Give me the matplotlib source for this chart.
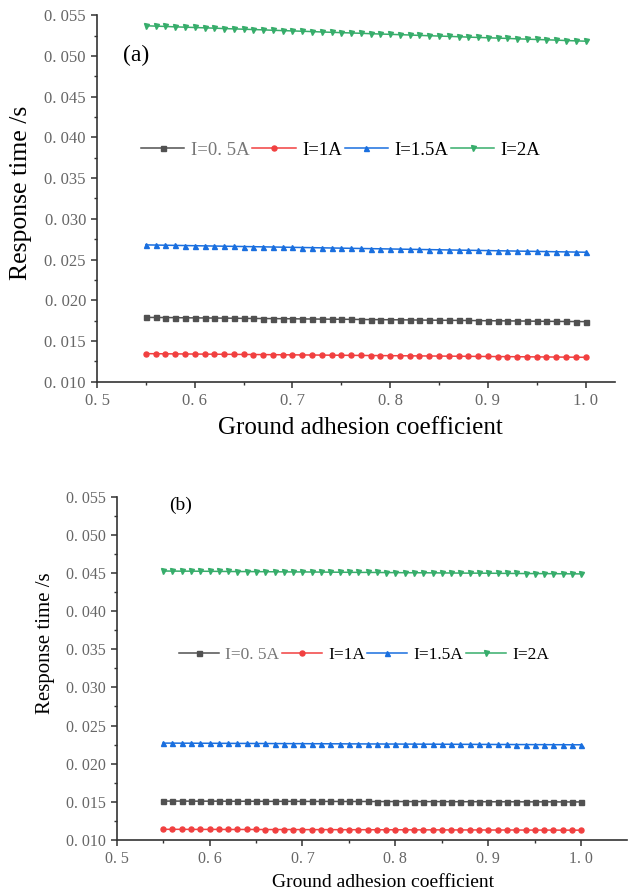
import matplotlib
matplotlib.use('Agg')
import matplotlib.pyplot as plt
from matplotlib.ticker import MultipleLocator, FuncFormatter

# ground adhesion coefficient samples
adhesion = [0.55, 0.56, 0.57, 0.58, 0.59, 0.60, 0.61, 0.62, 0.63, 0.64,
            0.65, 0.66, 0.67, 0.68, 0.69, 0.70, 0.71, 0.72, 0.73, 0.74,
            0.75, 0.76, 0.77, 0.78, 0.79, 0.80, 0.81, 0.82, 0.83, 0.84,
            0.85, 0.86, 0.87, 0.88, 0.89, 0.90, 0.91, 0.92, 0.93, 0.94,
            0.95, 0.96, 0.97, 0.98, 0.99, 1.00]

labels = ['I=0. 5A', 'I=1A', 'I=1.5A', 'I=2A']

# (a)
a_05 = [0.01790, 0.01789, 0.01788, 0.01787, 0.01785, 0.01784, 0.01783, 0.01782, 0.01781, 0.01780,
        0.01778, 0.01777, 0.01776, 0.01775, 0.01774, 0.01773, 0.01771, 0.01770, 0.01769, 0.01768,
        0.01767, 0.01766, 0.01764, 0.01763, 0.01762, 0.01761, 0.01760, 0.01759, 0.01757, 0.01756,
        0.01755, 0.01754, 0.01753, 0.01752, 0.01750, 0.01749, 0.01748, 0.01747, 0.01746, 0.01745,
        0.01743, 0.01742, 0.01741, 0.01740, 0.01739, 0.01738]
a_1 = [0.01345, 0.01344, 0.01343, 0.01342, 0.01341, 0.01340, 0.01339, 0.01338, 0.01337, 0.01336,
       0.01335, 0.01334, 0.01333, 0.01332, 0.01331, 0.01330, 0.01329, 0.01328, 0.01327, 0.01326,
       0.01325, 0.01324, 0.01323, 0.01322, 0.01321, 0.01320, 0.01319, 0.01318, 0.01317, 0.01316,
       0.01315, 0.01314, 0.01313, 0.01312, 0.01311, 0.01310, 0.01309, 0.01308, 0.01307, 0.01306,
       0.01305, 0.01304, 0.01303, 0.01302, 0.01301, 0.01300]
a_15 = [0.02680, 0.02678, 0.02676, 0.02674, 0.02672, 0.02670, 0.02668, 0.02666, 0.02664, 0.02662,
        0.02660, 0.02658, 0.02656, 0.02654, 0.02652, 0.02650, 0.02648, 0.02646, 0.02644, 0.02642,
        0.02640, 0.02638, 0.02636, 0.02634, 0.02632, 0.02630, 0.02628, 0.02626, 0.02624, 0.02622,
        0.02620, 0.02618, 0.02616, 0.02614, 0.02612, 0.02610, 0.02608, 0.02606, 0.02604, 0.02602,
        0.02600, 0.02598, 0.02596, 0.02594, 0.02592, 0.02590]
a_2 = [0.05370, 0.05366, 0.05362, 0.05357, 0.05353, 0.05349, 0.05345, 0.05341, 0.05336, 0.05332,
       0.05328, 0.05324, 0.05320, 0.05315, 0.05311, 0.05307, 0.05303, 0.05299, 0.05294, 0.05290,
       0.05286, 0.05282, 0.05278, 0.05273, 0.05269, 0.05265, 0.05261, 0.05257, 0.05252, 0.05248,
       0.05244, 0.05240, 0.05236, 0.05231, 0.05227, 0.05223, 0.05219, 0.05215, 0.05210, 0.05206,
       0.05202, 0.05198, 0.05194, 0.05189, 0.05185, 0.05181]

# (b)
b_05 = [0.01510, 0.01510, 0.01510, 0.01509, 0.01509, 0.01509, 0.01509, 0.01508, 0.01508, 0.01508,
        0.01508, 0.01507, 0.01507, 0.01507, 0.01507, 0.01506, 0.01506, 0.01506, 0.01506, 0.01505,
        0.01505, 0.01505, 0.01505, 0.01504, 0.01504, 0.01504, 0.01504, 0.01503, 0.01503, 0.01503,
        0.01503, 0.01502, 0.01502, 0.01502, 0.01502, 0.01501, 0.01501, 0.01501, 0.01501, 0.01500,
        0.01500, 0.01500, 0.01500, 0.01499, 0.01499, 0.01499]
b_1 = [0.01140, 0.01140, 0.01140, 0.01139, 0.01139, 0.01139, 0.01139, 0.01138, 0.01138, 0.01138,
       0.01138, 0.01137, 0.01137, 0.01137, 0.01137, 0.01136, 0.01136, 0.01136, 0.01136, 0.01135,
       0.01135, 0.01135, 0.01135, 0.01134, 0.01134, 0.01134, 0.01134, 0.01133, 0.01133, 0.01133,
       0.01133, 0.01132, 0.01132, 0.01132, 0.01132, 0.01131, 0.01131, 0.01131, 0.01131, 0.01130,
       0.01130, 0.01130, 0.01130, 0.01129, 0.01129, 0.01129]
b_15 = [0.02270, 0.02270, 0.02269, 0.02269, 0.02268, 0.02268, 0.02267, 0.02267, 0.02266, 0.02266,
        0.02265, 0.02265, 0.02264, 0.02264, 0.02263, 0.02263, 0.02262, 0.02262, 0.02261, 0.02261,
        0.02260, 0.02260, 0.02259, 0.02259, 0.02258, 0.02258, 0.02257, 0.02257, 0.02256, 0.02256,
        0.02255, 0.02255, 0.02254, 0.02254, 0.02253, 0.02253, 0.02252, 0.02252, 0.02251, 0.02251,
        0.02250, 0.02250, 0.02249, 0.02249, 0.02248, 0.02248]
b_2 = [0.04526, 0.04525, 0.04524, 0.04524, 0.04523, 0.04522, 0.04521, 0.04520, 0.04519, 0.04519,
       0.04518, 0.04517, 0.04516, 0.04515, 0.04514, 0.04514, 0.04513, 0.04512, 0.04511, 0.04510,
       0.04509, 0.04508, 0.04508, 0.04507, 0.04506, 0.04505, 0.04504, 0.04503, 0.04503, 0.04502,
       0.04501, 0.04500, 0.04499, 0.04498, 0.04498, 0.04497, 0.04496, 0.04495, 0.04494, 0.04493,
       0.04493, 0.04492, 0.04491, 0.04490, 0.04489, 0.04488]

colors = ['#515151', '#F14040', '#1A6FDF', '#37AD6B']
markers = ['s', 'o', '^', 'v']

plt.rcParams['font.family'] = ['Liberation Serif', 'DejaVu Serif']


def tick_fmt(v, pos):
    s = '%.3f' % v
    return s.replace('.', '. ')


def tick_fmt_x(v, pos):
    s = '%.1f' % v
    return s.replace('.', '. ')


def draw_panel(ax, series, tag, xmax, fs_tick, fs_xlab, fs_ylab, fs_leg, fs_tag,
               leg_pos, tag_pos, ylab_pos, xlab_pos):
    for y, c, m, lab in zip(series, colors, markers, labels):
        ax.plot(adhesion, y, color=c, marker=m, markersize=3.6, linewidth=1.1, label=lab)
    ax.set_xlim(0.5, xmax)
    ax.set_ylim(0.010, 0.055)
    ax.xaxis.set_major_locator(MultipleLocator(0.1))
    ax.xaxis.set_minor_locator(MultipleLocator(0.05))
    ax.yaxis.set_major_locator(MultipleLocator(0.005))
    ax.yaxis.set_minor_locator(MultipleLocator(0.0025))
    ax.yaxis.set_major_formatter(FuncFormatter(tick_fmt))
    ax.xaxis.set_major_formatter(FuncFormatter(tick_fmt_x))
    for s in ['top', 'right']:
        ax.spines[s].set_visible(False)
    for s in ['left', 'bottom']:
        ax.spines[s].set_linewidth(1.2)
        ax.spines[s].set_color('#333333')
    ax.tick_params(which='major', direction='out', length=4, width=1.1,
                   color='#333333', labelsize=fs_tick, labelcolor='#666666', pad=4)
    ax.tick_params(which='minor', direction='out', length=2.5, width=1.0, color='#333333')
    ax.set_xlabel('Ground adhesion coefficient', fontsize=fs_xlab)
    ax.set_ylabel('Response time /s', fontsize=fs_ylab)
    ax.yaxis.set_label_coords(ylab_pos[0], ylab_pos[1])
    ax.xaxis.set_label_coords(xlab_pos[0], xlab_pos[1])
    leg = ax.legend(loc='center', bbox_to_anchor=leg_pos, ncol=4, frameon=False,
                    fontsize=fs_leg, numpoints=1, handlelength=2.3, handletextpad=0.35,
                    columnspacing=0.15, borderaxespad=0)
    leg.get_texts()[0].set_color('#777777')
    ax.text(tag_pos[0], tag_pos[1], tag, transform=ax.transAxes, fontsize=fs_tag,
            ha='center', va='center')


fig = plt.figure(figsize=(6.3, 8.94), dpi=100)
ax1 = fig.add_axes([0.154, 0.573, 0.822, 0.410])
ax2 = fig.add_axes([0.185, 0.0604, 0.810, 0.384])

draw_panel(ax1, [a_05, a_1, a_15, a_2], '(a)', 1.03, 12, 18, 18.5, 13.5, 17,
           (0.471, 0.632), (0.075, 0.891), (-0.125, 0.514), (0.508, -0.095))
draw_panel(ax2, [b_05, b_1, b_15, b_2], '(b)', 1.049, 11.5, 14, 15, 12.5, 14,
           (0.485, 0.539), (0.126, 0.976), (-0.121, 0.574), (0.522, -0.100))

fig.savefig('out.png', dpi=100)
